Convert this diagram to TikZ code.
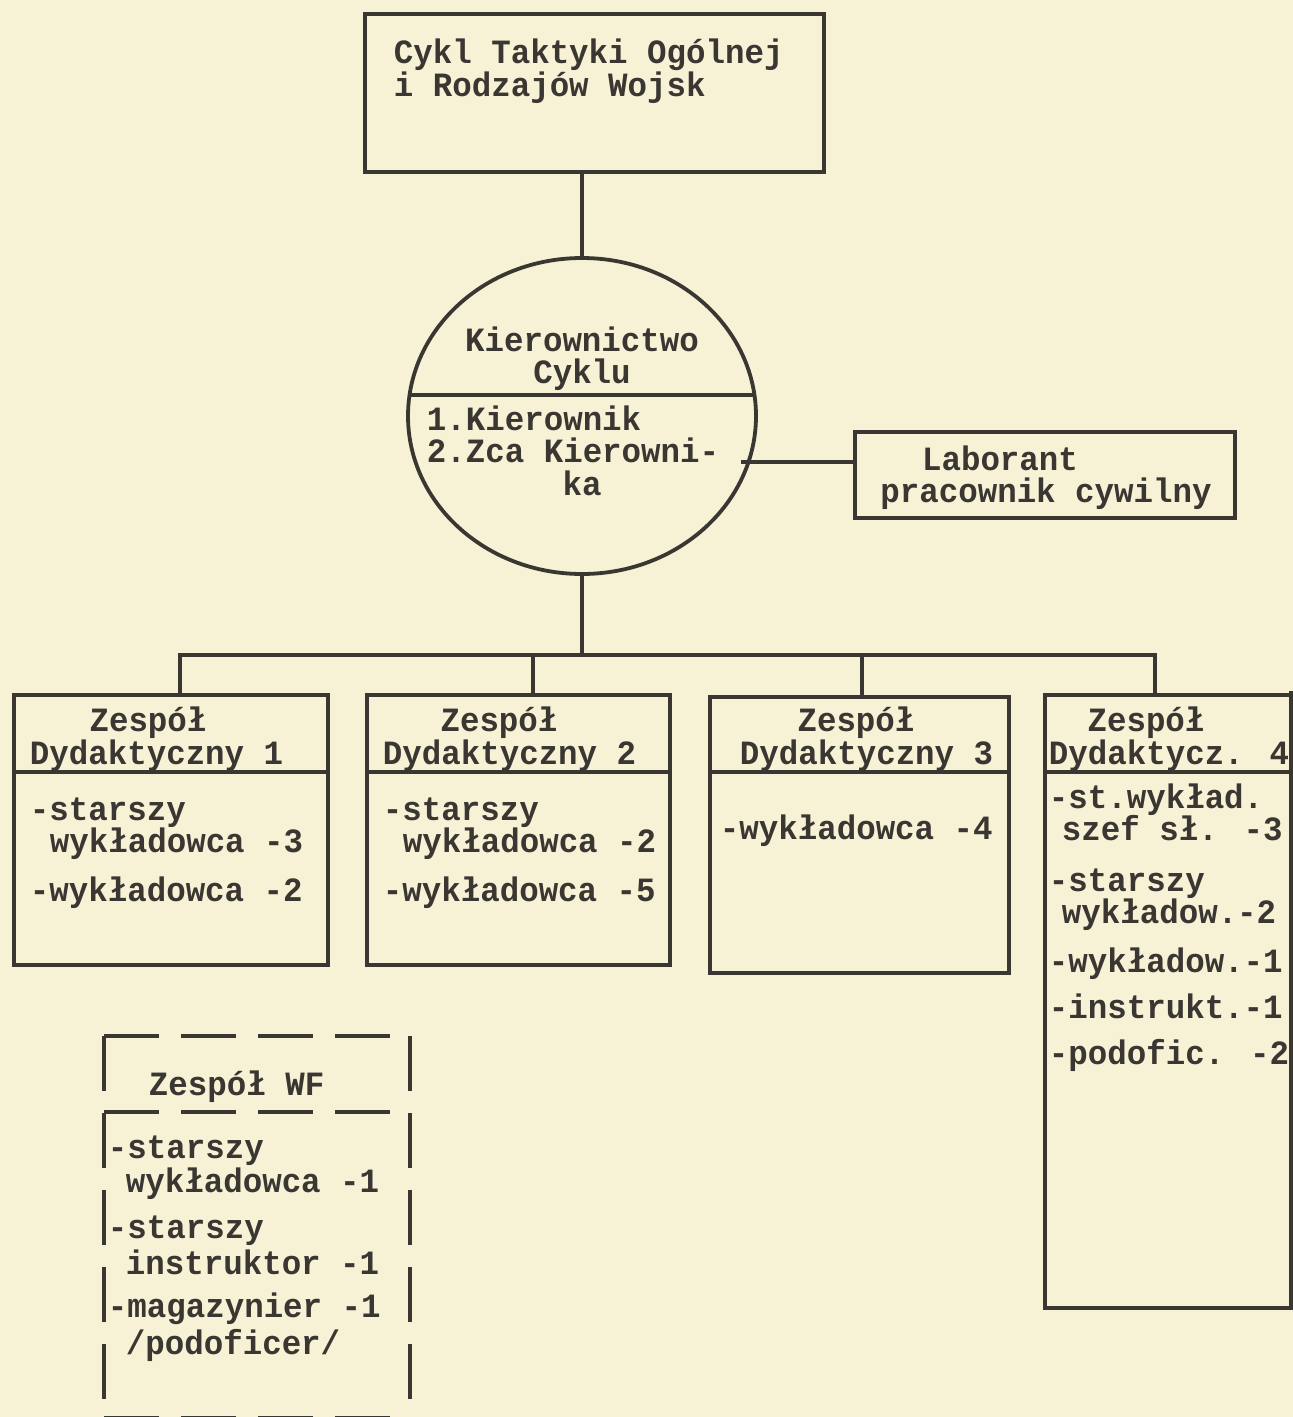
\documentclass[tikz,border=0pt]{standalone}
\usepackage{fontspec}
\newfontfamily\tw[FakeStretch=0.955]{Liberation Mono}
\usetikzlibrary{shapes.geometric}
\definecolor{paper}{RGB}{247,241,213}
\definecolor{ink}{RGB}{58,54,50}
\begin{document}
\begin{tikzpicture}[x=1pt,y=-1pt,line width=3.8pt,
  txt/.style={font=\tw\bfseries\fontsize{34}{38}\selectfont,text=ink,inner sep=0pt,
    text height=20pt,text depth=5pt,anchor=base west},
  ctxt/.style={txt,anchor=base},
  box/.style={draw=ink,line width=3.8pt,inner sep=0pt,anchor=north west},
  wire/.style={draw=ink,line width=3.8pt},
  dashwire/.style={wire,dash pattern=on 55pt off 22pt}]
\fill[paper] (0,0) rectangle (1293,1417);
\useasboundingbox (0,0) rectangle (1293,1417);

% top box
\node[box,minimum width=459pt,minimum height=158pt] (top) at (363,12) {};
\node[txt] (t1) at (392,63) {Cykl Taktyki Ogólnej};
\node[txt] (t2) at (392,96) {i Rodzajów Wojsk};

% circle
\node[draw=ink,ellipse,line width=3.8pt,minimum width=348pt,minimum height=316pt,inner sep=0pt] (circ) at (582,416) {};
\draw[wire] (top.south -| circ.north) -- (circ.north);
\draw[wire] (409,395) -- (755,395);
\node[ctxt] (k1) at (582,351) {Kierownictwo};
\node[ctxt] (k2) at (582,383) {Cyklu};
\node[txt] (k3) at (425,430) {1.Kierownik};
\node[txt] (k4) at (425,462) {2.Zca Kierowni-};
\node[ctxt] (k5) at (582,495) {ka};

% Laborant
\node[box,minimum width=380pt,minimum height=86pt] (lab) at (853,430) {};
\node[ctxt] (l1) at (1000,470) {Laborant};
\node[ctxt] (l2) at (1046,502) {pracownik cywilny};
\coordinate (cl) at (741,462);
\draw[wire] (cl) -- (cl -| lab.west);

% bus
\coordinate (bus) at (582,655);
\draw[wire] (circ.south) -- (bus);
\coordinate (d1) at (180,693);
\coordinate (d2) at (533,693);
\coordinate (d3) at (862,695);
\coordinate (d4) at (1155,693);

% box 1
\node[box,minimum width=314pt,minimum height=270pt] (z1) at (12,693) {};
\draw[wire] (12,772) -- (326,772);
\node[ctxt] (z1a) at (148,731) {Zespół};
\node[txt] (z1b) at (28,764) {Dydaktyczny 1};
\node[txt] (z1c) at (28,820) {-starszy};
\node[txt] (z1d) at (48,852) {wykładowca -3};
\node[txt] (z1e) at (28,901) {-wykładowca -2};

% box 2
\node[box,minimum width=303pt,minimum height=270pt] (z2) at (365,693) {};
\draw[wire] (365,772) -- (668,772);
\node[ctxt] (z2a) at (499,731) {Zespół};
\node[txt] (z2b) at (381,764) {Dydaktyczny 2};
\node[txt] (z2c) at (381,820) {-starszy};
\node[txt] (z2d) at (401,852) {wykładowca -2};
\node[txt] (z2e) at (381,901) {-wykładowca -5};

% box 3
\node[box,minimum width=299pt,minimum height=276pt] (z3) at (708,695) {};
\draw[wire] (708,772) -- (1007,772);
\node[ctxt] (z3a) at (856,731) {Zespół};
\node[txt] (z3b) at (738,764) {Dydaktyczny 3};
\node[txt] (z3c) at (718,839) {-wykładowca -4};

% box 4
\node[box,minimum width=246pt,minimum height=613pt] (z4) at (1043,693) {};
\draw[wire] (1289,693) -- (1293,693);
\draw[wire] (1043,772) -- (1289,772);
\node[ctxt] (z4a) at (1146,731) {Zespół};
\node[txt] (z4b) at (1047,764) {Dydaktycz. 4};
\node[txt] (z4c) at (1047,808) {-st.wykład.};
\node[txt] (z4d) at (1060,840) {szef sł. -3};
\node[txt] (z4e) at (1047,891) {-starszy};
\node[txt] (z4f) at (1060,923) {wykładow.-2};
\node[txt] (z4g) at (1047,972) {-wykładow.-1};
\node[txt] (z4h) at (1047,1018) {-instrukt.-1};
\node[txt] (z4i) at (1047,1064) {-podofic. -2};

% bus wires
\draw[wire] (d1) -- (d1 |- bus) -- (d4 |- bus) -- (d4);
\draw[wire] (d2) -- (d2 |- bus);
\draw[wire] (d3) -- (d3 |- bus);

% WF box (dashed)
\node[inner sep=0pt,anchor=north west,minimum width=302pt,minimum height=378pt] (wf) at (104,1036) {};
\draw[dashwire] (wf.north west) -- (wf.north east);
\draw[dashwire] (wf.north east) -- (wf.south east);
\draw[dashwire] (wf.north west) -- (wf.south west);
\draw[dashwire] (wf.south west) -- (wf.south east);
\draw[dashwire] (wf.west |- 0,1112) -- (wf.east |- 0,1112);
\node[txt] (w1) at (147,1095) {Zespół WF};
\node[txt] (w2) at (106,1158) {-starszy};
\node[txt] (w3) at (124,1192) {wykładowca -1};
\node[txt] (w4) at (106,1238) {-starszy};
\node[txt] (w5) at (124,1274) {instruktor -1};
\node[txt] (w6) at (106,1317) {-magazynier -1};
\node[txt] (w7) at (124,1354) {/podoficer/};
\end{tikzpicture}
\end{document}
